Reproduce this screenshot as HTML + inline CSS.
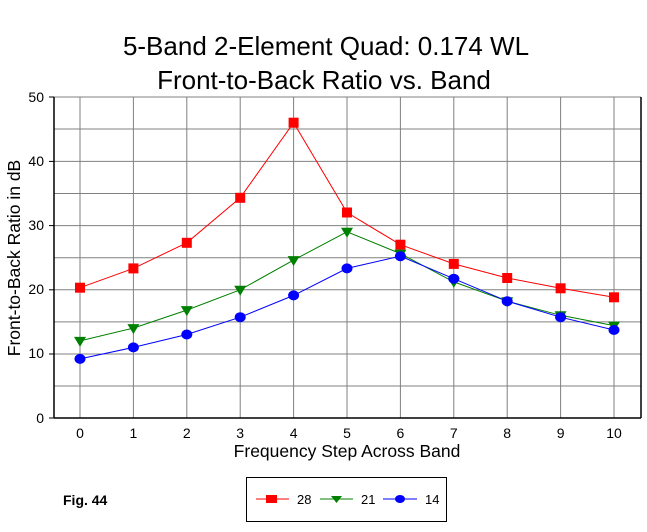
<!DOCTYPE html>
<html><head><style>body{margin:0;background:#fff}</style></head><body>
<svg width="647" height="527" xmlns="http://www.w3.org/2000/svg" font-family="Liberation Sans, Arial, sans-serif">
<rect width="647" height="527" fill="#fff"/>
<text x="326" y="55" font-size="26" text-anchor="middle">5-Band 2-Element Quad: 0.174 WL</text>
<text x="324" y="89" font-size="26" text-anchor="middle">Front-to-Back Ratio vs. Band</text>
<g stroke="#808080" stroke-width="1">
<line x1="54" y1="97" x2="641" y2="97"/>
<line x1="54" y1="129" x2="641" y2="129"/><line x1="54" y1="161.4" x2="641" y2="161.4"/>
<line x1="54" y1="193.5" x2="641" y2="193.5"/><line x1="54" y1="225.6" x2="641" y2="225.6"/>
<line x1="54" y1="257.7" x2="641" y2="257.7"/><line x1="54" y1="289.8" x2="641" y2="289.8"/>
<line x1="54" y1="321.9" x2="641" y2="321.9"/><line x1="54" y1="354" x2="641" y2="354"/>
<line x1="54" y1="386" x2="641" y2="386"/>
<line x1="80" y1="97" x2="80" y2="418"/><line x1="133.4" y1="97" x2="133.4" y2="418"/>
<line x1="186.8" y1="97" x2="186.8" y2="418"/><line x1="240.2" y1="97" x2="240.2" y2="418"/>
<line x1="293.6" y1="97" x2="293.6" y2="418"/><line x1="347" y1="97" x2="347" y2="418"/>
<line x1="400.4" y1="97" x2="400.4" y2="418"/><line x1="453.8" y1="97" x2="453.8" y2="418"/>
<line x1="507.2" y1="97" x2="507.2" y2="418"/><line x1="560.6" y1="97" x2="560.6" y2="418"/>
<line x1="614" y1="97" x2="614" y2="418"/>
</g>
<g stroke="#000" stroke-width="1.5">
<line x1="54" y1="97" x2="54" y2="418"/><line x1="54" y1="418" x2="641" y2="418"/><line x1="641" y1="97" x2="641" y2="418"/>
</g>
<g stroke="#000" stroke-width="1">
<line x1="49" y1="97" x2="54" y2="97"/><line x1="49" y1="161.4" x2="54" y2="161.4"/><line x1="49" y1="225.6" x2="54" y2="225.6"/><line x1="49" y1="289.8" x2="54" y2="289.8"/><line x1="49" y1="354" x2="54" y2="354"/><line x1="49" y1="418" x2="54" y2="418"/>
</g>
<g font-size="14" text-anchor="end">
<text x="44" y="102">50</text><text x="44" y="166">40</text><text x="44" y="230">30</text><text x="44" y="294">20</text><text x="44" y="358">10</text><text x="44" y="423">0</text>
</g>
<g font-size="14" text-anchor="middle">
<text x="80" y="438">0</text><text x="133.4" y="438">1</text><text x="186.8" y="438">2</text><text x="240.2" y="438">3</text><text x="293.6" y="438">4</text><text x="347" y="438">5</text><text x="400.4" y="438">6</text><text x="453.8" y="438">7</text><text x="507.2" y="438">8</text><text x="560.6" y="438">9</text><text x="614" y="438">10</text>
</g>
<text x="347" y="457" font-size="17.5" text-anchor="middle">Frequency Step Across Band</text>
<text transform="translate(20,258) rotate(-90)" font-size="17.5" text-anchor="middle">Front-to-Back Ratio in dB</text>
<polyline fill="none" stroke="#f00" points="80,287.7 133.4,268.4 186.8,242.8 240.2,197.8 293.6,122.7 347,212.5 400.4,244.7 453.8,263.9 507.2,278 560.6,288.3 614,297.3"/>
<polyline fill="none" stroke="#008000" points="80,340.9 133.4,328.1 186.8,310.1 240.2,289.8 293.6,260.1 347,231.8 400.4,253.6 453.8,281.9 507.2,301.2 560.6,315.3 614,325.6"/>
<polyline fill="none" stroke="#00f" points="80,358.9 133.4,347.4 186.8,334.5 240.2,317.2 293.6,295.4 347,268.4 400.4,256.2 453.8,278.7 507.2,301.2 560.6,317.2 614,330"/>
<g fill="#f00">
<rect x="75" y="282.7" width="10" height="10"/><rect x="128.4" y="263.4" width="10" height="10"/><rect x="181.8" y="237.8" width="10" height="10"/><rect x="235.2" y="192.8" width="10" height="10"/><rect x="288.6" y="117.7" width="10" height="10"/><rect x="342" y="207.5" width="10" height="10"/><rect x="395.4" y="239.7" width="10" height="10"/><rect x="448.8" y="258.9" width="10" height="10"/><rect x="502.2" y="273" width="10" height="10"/><rect x="555.6" y="283.3" width="10" height="10"/><rect x="609" y="292.3" width="10" height="10"/>
</g>
<g fill="#008000">
<path d="M74,336.9h12l-6,10z"/><path d="M127.4,324.1h12l-6,10z"/><path d="M180.8,306.1h12l-6,10z"/><path d="M234.2,285.8h12l-6,10z"/><path d="M287.6,256.1h12l-6,10z"/><path d="M341,227.8h12l-6,10z"/><path d="M394.4,249.6h12l-6,10z"/><path d="M447.8,277.9h12l-6,10z"/><path d="M501.2,297.2h12l-6,10z"/><path d="M554.6,311.3h12l-6,10z"/><path d="M608,321.6h12l-6,10z"/>
</g>
<g fill="#00f">
<ellipse cx="80" cy="358.9" rx="5.5" ry="5"/><ellipse cx="133.4" cy="347.4" rx="5.5" ry="5"/><ellipse cx="186.8" cy="334.5" rx="5.5" ry="5"/><ellipse cx="240.2" cy="317.2" rx="5.5" ry="5"/><ellipse cx="293.6" cy="295.4" rx="5.5" ry="5"/><ellipse cx="347" cy="268.4" rx="5.5" ry="5"/><ellipse cx="400.4" cy="256.2" rx="5.5" ry="5"/><ellipse cx="453.8" cy="278.7" rx="5.5" ry="5"/><ellipse cx="507.2" cy="301.2" rx="5.5" ry="5"/><ellipse cx="560.6" cy="317.2" rx="5.5" ry="5"/><ellipse cx="614" cy="330" rx="5.5" ry="5"/>
</g>
<text x="63" y="505" font-size="14" font-weight="bold">Fig. 44</text>
<rect x="246.5" y="477.5" width="200" height="44" fill="none" stroke="#000"/>
<line x1="256" y1="499" x2="289" y2="499" stroke="#f00"/><rect x="266" y="495" width="11" height="8" fill="#f00"/>
<text x="297" y="504" font-size="13">28</text>
<line x1="320" y1="499" x2="353" y2="499" stroke="#008000"/><path d="M331,496h11l-5.5,7z" fill="#008000"/>
<text x="361" y="504" font-size="13">21</text>
<line x1="383" y1="499" x2="417" y2="499" stroke="#00f"/><ellipse cx="400" cy="499" rx="5" ry="4" fill="#00f"/>
<text x="425" y="504" font-size="13">14</text>
</svg>
</body></html>
